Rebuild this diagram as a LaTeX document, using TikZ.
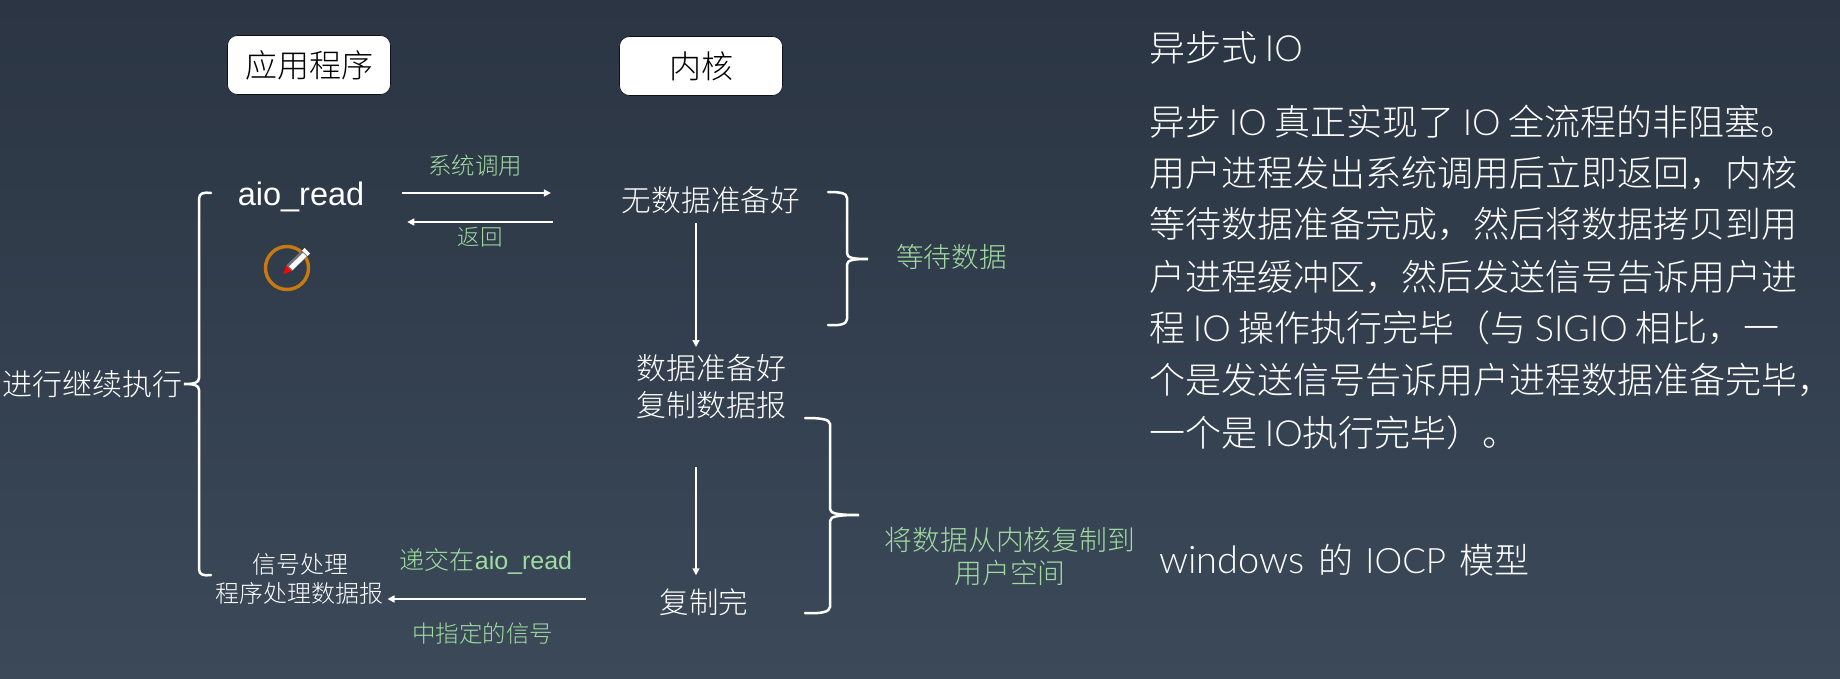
\documentclass[tikz,border=0pt]{standalone}
\usepackage{fontspec}
\setmainfont{Noto Sans CJK SC Light}
\newfontfamily\latfont{Liberation Sans}
\newfontfamily\thinlat{Lato Light}
\newcommand{\lat}[1]{{\latfont #1}}
\newcommand{\tlat}[1]{{\thinlat #1}}
\usetikzlibrary{arrows.meta}
\definecolor{bgtop}{HTML}{2B3543}
\definecolor{bgbot}{HTML}{3B4959}
\definecolor{lblgreen}{HTML}{A0DCA0}
\definecolor{ringorange}{HTML}{C8790F}
\tikzset{
  sz/.style={font=\fontsize{#1}{#1}\selectfont, inner sep=0pt, outer sep=0pt,
    text height=0.88*#1pt, text depth=0.12*#1pt},
  wt/.style={sz=#1, text=white},
  gr/.style={sz=#1, text=lblgreen},
  para/.style={sz=36, text=white, anchor=west},
  headbox/.style={sz=32, text=black, fill=white, draw=black!70!bgtop, line width=0.6pt,
    rounded corners=10pt, minimum height=59pt, minimum width=163pt},
  arr/.style={draw=white, line width=1.5pt, -{Triangle[length=7pt,width=7pt]}},
  brk/.style={draw=white, line width=2.5pt, line cap=round}
}
\begin{document}
\begin{tikzpicture}[x=1pt,y=-1pt]
\useasboundingbox (0,0) rectangle (1840,679);
\shade[top color=bgtop,bottom color=bgbot] (0,0) rectangle (1840,679);

% headers
\node[headbox] (app) at (309,65) {应用程序};
\node[headbox] (kern) at (701,66) {内核};

% application column
\node[wt=32.5] (aio) at (301,193) {\lat{aio\_read}};
\node[wt=30] (cont) at (92.5,384) {进行继续执行};
\node[wt=24] (sig1) at (300.5,564) {信号处理};
\node[wt=24] (sig2) at (299.5,593) {程序处理数据报};

% kernel column
\node[wt=29.7] (none) at (711,200) {无数据准备好};
\node[wt=30] (ready1) at (711,368) {数据准备好};
\node[wt=30] (ready2) at (711,405) {复制数据报};
\node[wt=29.5] (done) at (704,602) {复制完};

% green labels
\node[gr=23.5] (lcall) at (475,166) {系统调用};
\node[gr=22.5] (lret) at (480,237) {返回};
\node[gr=25] (ldel1) at (486,560) {递交在\lat{aio\_read}};
\node[gr=23.5] (ldel2) at (482.5,634) {中指定的信号};
\node[gr=27.7] (lwait) at (951.5,257) {等待数据};
\node[gr=27.8] (lcopy1) at (1010,540) {将数据从内核复制到};
\node[gr=27.8] (lcopy2) at (1010,573) {用户空间};

% connectors
\draw[arr,shorten <=38pt,shorten >=71pt] (aio.east) -- (aio.east -| none.west);
\draw[arr,shorten <=69pt,shorten >=43pt] ([yshift=-22pt]none.west) -- ([yshift=-29pt]aio.east);
\draw[arr,shorten <=8pt,shorten >=6pt] ([xshift=-15pt]none.south) -- ([xshift=-15pt]ready1.north);
\draw[arr,shorten <=47pt,shorten >=12pt] ([xshift=-15pt]ready2.south) -- ([xshift=-8pt]done.north);
\draw[arr,shorten <=74pt,shorten >=4pt] ([yshift=3pt]done.west) -- ([yshift=-6pt]sig2.east);

% brackets
\draw[brk] (211,193) .. controls (204,192) and (199,193) .. (199,199) -- (199,378)
  .. controls (199,383) and (194,384) .. (184,384)
  .. controls (194,384) and (199,385) .. (199,390) -- (199,569)
  .. controls (199,575) and (204,576) .. (211,575);
\draw[brk] (828,192) .. controls (840,192) and (847,193) .. (847,198) -- (847,253)
  .. controls (847,258) and (853,259) .. (868,259)
  .. controls (853,259) and (847,260) .. (847,265) -- (847,319)
  .. controls (847,324) and (840,326) .. (828,325);
\draw[brk] (805,418) .. controls (820,418) and (830,419) .. (830,424) -- (830,509)
  .. controls (830,514) and (840,515) .. (859,515)
  .. controls (840,515) and (830,516) .. (830,521) -- (830,607)
  .. controls (830,612) and (820,614) .. (805,613);

% pointer mark
\draw[ringorange,line width=3.4pt] (287,268) circle (21.5);
\fill[black!55] (291.8,271.4) -- (286.2,265.6) -- (302.2,250.1) -- (307.8,255.9) -- cycle;
\fill[white] (292.5,270) -- (289,266.5) -- (303,253) -- (306.5,256.5) -- cycle;
\fill[white] (302,250.5) -- (304.5,248) -- (310,253.5) -- (307.5,256) -- cycle;
\fill[red] (283,274) -- (286.4,265.8) -- (291.6,271.2) -- cycle;

% description
\node[para,anchor=west] (head) at (1149,48) {异步式 \tlat{IO}};
\node[para] (p1) at (1149,122) {异步 \tlat{IO} 真正实现了 \tlat{IO} 全流程的非阻塞。};
\node[para] (p2) at (1149,173) {用户进程发出系统调用后立即返回，内核};
\node[para] (p3) at (1149,224) {等待数据准备完成，然后将数据拷贝到用};
\node[para] (p4) at (1149,277) {户进程缓冲区，然后发送信号告诉用户进};
\node[para] (p5) at (1149,328) {程 \tlat{IO} 操作执行完毕（与 \tlat{SIGIO} 相比，一};
\node[para] (p6) at (1149,380) {个是发送信号告诉用户进程数据准备完毕，};
\node[para] (p7) at (1149,433) {一个是 \tlat{IO}执行完毕）。};
\node[sz=35,text=white,anchor=west] (win) at (1159,560) {\tlat{\fontsize{38}{38}\selectfont windows}\hspace{14pt}的\hspace{12pt}\tlat{IOCP}\hspace{13pt}模型};
\end{tikzpicture}
\end{document}
